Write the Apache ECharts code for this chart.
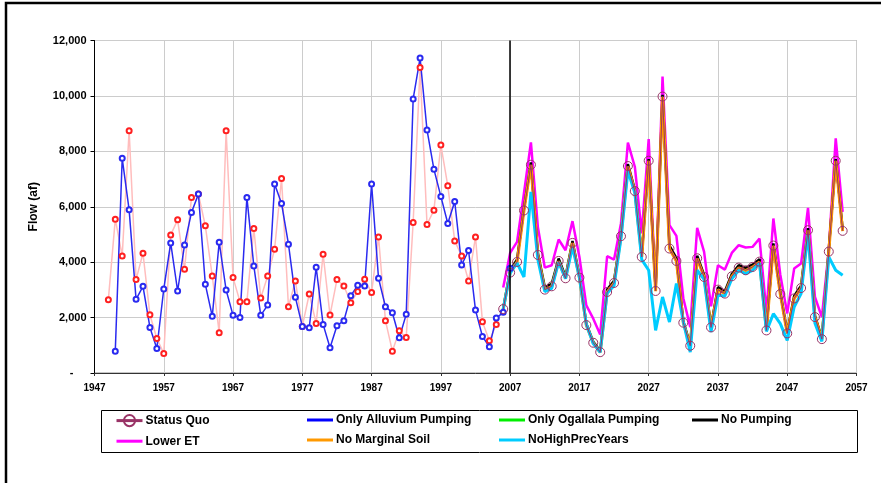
<!DOCTYPE html>
<html>
<head>
<meta charset="utf-8">
<script src="https://cdn.jsdelivr.net/npm/echarts@6/dist/echarts.min.js"></script>
<style>
  html, body { margin: 0; padding: 0; background: #ffffff; }
  #chart { width: 881px; height: 483px; }
</style>
</head>
<body>
<div id="chart"></div>
<script>
// ---- Data: annual flow (acre-feet) ----
// Observed flow, 1949-2005
const observedStart = 1949;
const observedFlow = [
  2648, 5552, 4225, 8746, 3371, 4322, 2105, 1248, 705, 4984,
  5527, 3744, 6337, 6456, 5310, 3501, 1454, 8746, 3443, 2575,
  2575, 5216, 2706, 3501, 4467, 7024, 2394, 3320, 1682, 2850,
  1790, 4286, 2091, 3371, 3140, 2539, 2937, 3382, 2901, 4912,
  1888, 789, 1526, 1284, 5433, 11025, 5360, 5878, 8229, 6757,
  4767, 4225, 3320, 4912, 1852, 1165, 1754
];

// Simulated historical flow, 1950-2007
const simulatedStart = 1950;
const simulatedFlow = [
  789, 7747, 5889, 2658, 3129, 1646, 886, 3031, 4695, 2959,
  4623, 5794, 6456, 3201, 2044, 4720, 2995, 2080, 2007, 6337,
  3863, 2080, 2452, 6818, 6120, 4648, 2731, 1682, 1635, 3816,
  1754, 911, 1707, 1888, 2792, 3165, 3140, 6818, 3418, 2394,
  2177, 1273, 2116, 9892, 11364, 8771, 7350, 6373, 5397, 6192,
  3899, 4420, 2271, 1320, 948, 1982, 2188, 3780
];

// Scenario projections, 2006-2055
const scenarioStart = 2006;
const statusQuo = [
  2308, 3624, 4008, 5867, 7516, 4261, 3009, 3129, 4044, 3418,
  4695, 3443, 1729, 1092, 752, 2923, 3249, 4937, 7469, 6565,
  4190, 7661, 2960, 9977, 4492, 4044, 1816, 984, 4141, 3465,
  1646, 3009, 2865, 3490, 3805, 3707, 3828, 4020, 1537, 4600,
  2850, 1430, 2690, 3067, 5154, 2018, 1223, 4382, 7661, 5130
];
const onlyAlluvium = [
  2310, 3640, 4020, 5880, 7530, 4270, 3020, 3140, 4060, 3430,
  4710, 3450, 1735, 1095, 755, 2935, 3260, 4945, 7480, 6570,
  4195, 7670, 2965, 9985, 4500, 4055, 1820, 988, 4150, 3475,
  1650, 3020, 2875, 3500, 3815, 3715, 3838, 4030, 1540, 4610,
  2860, 1435, 2700, 3075, 5165, 2022, 1226, 4390, 7670, 5136
];
const onlyOgallala = [
  2320, 3660, 4050, 5910, 7560, 4300, 3060, 3180, 4090, 3450,
  4730, 3470, 1750, 1110, 770, 2970, 3290, 4970, 7500, 6590,
  4220, 7690, 2980, 10010, 4540, 4100, 1840, 1000, 4190, 3500,
  1670, 3060, 2910, 3530, 3850, 3750, 3870, 4070, 1560, 4640,
  2890, 1450, 2740, 3110, 5190, 2040, 1240, 4410, 7690, 5160
];
const noPumping = [
  2330, 3700, 4100, 5950, 7600, 4330, 3100, 3220, 4130, 3480,
  4760, 3500, 1780, 1130, 790, 3010, 3330, 5000, 7540, 6620,
  4250, 7720, 3010, 10040, 4600, 4150, 1870, 1020, 4230, 3540,
  1700, 3100, 2950, 3570, 3890, 3790, 3910, 4110, 1580, 4680,
  2930, 1480, 2780, 3150, 5230, 2070, 1260, 4450, 7720, 5190
];
const lowerET = [
  3082, 4333, 4731, 6500, 8326, 5274, 3805, 3888, 4818, 4431,
  5480, 4190, 2442, 1960, 1393, 4214, 4094, 5397, 8312, 7444,
  5035, 8446, 3000, 10700, 5335, 4950, 2700, 1657, 5238, 4370,
  2405, 3888, 3733, 4333, 4612, 4528, 4552, 4854, 2200, 5577,
  3550, 2150, 3769, 3950, 5961, 2742, 2018, 4450, 8470, 5817
];
const noMarginalSoil = [
  2305, 3620, 4000, 5860, 7510, 4255, 3000, 3120, 4035, 3410,
  4690, 3435, 1722, 1088, 748, 2915, 3240, 4930, 7460, 6560,
  4185, 7655, 2950, 9970, 4485, 4035, 1810, 980, 4135, 3458,
  1640, 3000, 2858, 3482, 3795, 3698, 3818, 4012, 1532, 4592,
  2842, 1426, 2684, 3060, 5145, 2012, 1220, 4375, 7655, 5124
];
const noHighPrecYears = [
  2300, 3600, 3970, 3465, 6540, 4100, 2940, 3050, 4000, 3400,
  4550, 3450, 1750, 1060, 750, 2880, 3150, 4850, 7300, 6500,
  4090, 3707, 1537, 2743, 1838, 3226, 1850, 752, 3707, 3380,
  1477, 2803, 2780, 3400, 3707, 3587, 3707, 3970, 1500, 2141,
  1780, 1176, 2380, 2865, 5020, 1800, 1140, 4190, 3707, 3527
];

// Axis settings
const yearMin = 1947, yearMax = 2057, yearStep = 10;
const flowMin = 0, flowMax = 12000, flowStep = 2000;
const projectionStartYear = 2007;

// Pair each value with its year
function byYear(start, values) {
  return values.map((v, i) => [start + i, v]);
}

const FONT = '"Liberation Sans", Arial, sans-serif';
// Plain line swatch for legend entries without markers
const LINE_ICON = 'path://M0,0H26V3H0Z';

const chart = echarts.init(document.getElementById('chart'), null, { renderer: 'canvas' });

function scenario(name, values, color, width) {
  return {
    name: name,
    type: 'line',
    data: byYear(scenarioStart, values),
    symbol: 'none',
    lineStyle: { color: color, width: width },
    itemStyle: { color: color },
    animation: false
  };
}

const legendText = { fontFamily: FONT, fontWeight: 'bold', fontSize: 12, color: '#000', padding: [0, 0, 0, -2] };
function legendColumn(left, items) {
  return {
    orient: 'vertical',
    left: left,
    top: 414,
    itemWidth: 26,
    itemHeight: 14,
    itemGap: 8,
    padding: 0,
    symbolKeepAspect: true,
    lineStyle: { width: 3 },
    data: items,
    textStyle: legendText,
    selectedMode: false
  };
}

const option = {
  backgroundColor: '#ffffff',
  animation: false,
  grid: {
    left: 94.5, right: 24.5, top: 40.5, bottom: 110,
    show: true, borderColor: '#8c8c8c', borderWidth: 1, backgroundColor: 'transparent'
  },
  xAxis: {
    type: 'value',
    min: yearMin, max: yearMax, interval: yearStep,
    axisLine: { show: true, onZero: false, lineStyle: { color: '#333333', width: 1 } },
    axisTick: { show: true, inside: false, length: 3, lineStyle: { color: '#333333' } },
    splitLine: { show: true, lineStyle: { color: '#cccccc', width: 1 } },
    axisLabel: {
      fontFamily: FONT, fontWeight: 'bold', fontSize: 10, color: '#000', margin: 10,
      formatter: function (v) { return String(v); }
    }
  },
  yAxis: {
    type: 'value',
    min: flowMin, max: flowMax, interval: flowStep,
    name: 'Flow (af)',
    nameLocation: 'middle',
    nameGap: 55,
    nameTextStyle: { fontFamily: FONT, fontWeight: 'bold', fontSize: 12, color: '#000' },
    axisLine: { show: true, lineStyle: { color: '#000000', width: 1 } },
    axisTick: { show: true, inside: false, length: 4, lineStyle: { color: '#000000' } },
    splitLine: { show: true, lineStyle: { color: '#cccccc', width: 1 } },
    axisLabel: {
      fontFamily: FONT, fontWeight: 'bold', fontSize: 11, color: '#000', margin: 8,
      formatter: function (v) {
        return v === 0 ? '{z|-}' : v.toLocaleString('en-US');
      },
      rich: { z: { fontFamily: FONT, fontWeight: 'bold', fontSize: 11, color: '#000', padding: [0, 13, 0, 0] } }
    }
  },
  legend: [
    legendColumn(115, [
      { name: 'Status Quo' },
      { name: 'Lower ET', icon: LINE_ICON }
    ]),
    legendColumn(307, [
      { name: 'Only Alluvium Pumping', icon: LINE_ICON },
      { name: 'No Marginal Soil', icon: LINE_ICON }
    ]),
    legendColumn(499, [
      { name: 'Only Ogallala Pumping', icon: LINE_ICON },
      { name: 'NoHighPrecYears', icon: LINE_ICON }
    ]),
    legendColumn(692, [
      { name: 'No Pumping', icon: LINE_ICON }
    ])
  ],
  graphic: [
    {
      type: 'polyline', silent: true, z: 0,
      shape: { points: [[6, 483], [6, 3], [881, 3]] },
      style: { stroke: '#000000', lineWidth: 2.5, fill: null }
    },
    {
      type: 'rect', silent: true, z: -1,
      shape: { x: 101.5, y: 410.5, width: 756, height: 42 },
      style: { stroke: '#000000', lineWidth: 1, fill: '#ffffff' }
    }
  ],
  series: [
    {
      name: 'Observed',
      type: 'line',
      data: byYear(observedStart, observedFlow),
      symbol: 'emptyCircle', symbolSize: 5,
      lineStyle: { color: '#ffbdbd', width: 1.5 },
      itemStyle: { color: '#ff2020', borderColor: '#ff2020', borderWidth: 1 },
      animation: false
    },
    {
      name: 'Simulated',
      type: 'line',
      data: byYear(simulatedStart, simulatedFlow),
      symbol: 'emptyCircle', symbolSize: 5,
      lineStyle: { color: '#2a2af0', width: 1.5 },
      itemStyle: { color: '#2a2af0', borderColor: '#2a2af0', borderWidth: 1 },
      animation: false,
      markLine: {
        silent: true, symbol: 'none', animation: false,
        label: { show: false },
        lineStyle: { color: '#000000', width: 1.5, type: 'solid' },
        data: [{ xAxis: projectionStartYear }]
      }
    },
    scenario('Lower ET', lowerET, '#ff00ff', 2.5),
    scenario('Only Alluvium Pumping', onlyAlluvium, '#0000ff', 2),
    scenario('Only Ogallala Pumping', onlyOgallala, '#00ee00', 2),
    scenario('No Pumping', noPumping, '#000000', 2.5),
    scenario('No Marginal Soil', noMarginalSoil, '#ff9900', 3),
    scenario('NoHighPrecYears', noHighPrecYears, '#00ccff', 3),
    {
      name: 'Status Quo',
      type: 'line',
      data: byYear(scenarioStart, statusQuo),
      symbol: 'circle', symbolSize: 9,
      lineStyle: { color: '#993366', width: 1 },
      itemStyle: { color: 'rgba(255,255,255,0)', borderColor: '#993366', borderWidth: 1 },
      animation: false
    }
  ]
};

chart.setOption(option);
</script>
</body>
</html>
